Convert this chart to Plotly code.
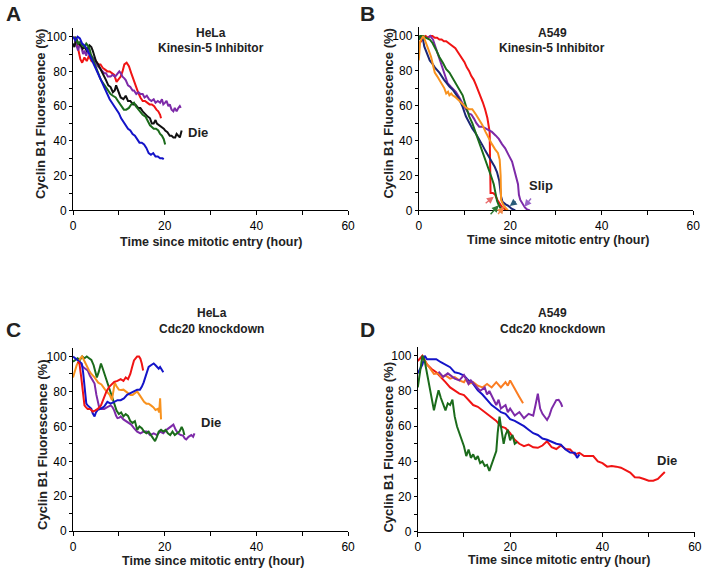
import plotly.graph_objects as go

# ---------------- data ----------------
# Panel A: HeLa, Kinesin-5 inhibitor
a_blue_t = [0, 0.5, 1, 1.5, 2, 2.5, 3, 3.5, 4, 4.5, 5, 5.5, 6, 6.5, 7, 7.5, 8, 8.5, 9, 9.5, 10, 10.5, 11, 11.5, 12, 12.5, 13, 13.5, 14, 14.5, 15, 15.5, 16, 16.5, 17, 17.5, 18, 18.5, 19, 19.5, 19.8]
a_blue_v = [100, 98, 100, 99, 96, 95, 93, 90, 87, 84, 81, 78, 75, 72, 69, 66, 64, 62, 60, 58, 56, 53, 51, 49, 47, 46, 44, 43, 41, 39, 39, 38, 36, 33, 32, 33, 31, 31, 30, 30, 29.5]
a_red_t = [0.3, 0.8, 1.2, 1.6, 2, 2.5, 3, 3.5, 4, 4.5, 5, 5.5, 6, 6.5, 7, 7.5, 8, 8.5, 9, 9.5, 10, 10.4, 10.8, 11.2, 11.7, 12.2, 12.7, 13.2, 13.7, 14.2, 14.7, 15.2, 15.7, 16.2, 16.7, 17.2, 17.7, 18.2, 18.6, 19, 19.2]
a_red_v = [100, 97, 92, 87, 85, 88, 86, 89, 86, 85, 86, 84, 84, 82, 81, 80, 80, 79, 78, 74, 76, 77, 80, 84, 85, 83, 79, 75, 72, 68, 65, 63, 63, 62, 61, 61, 60, 58, 57, 55, 53]
a_purple_t = [0.4, 0.8, 1.1, 1.5, 1.8, 2.2, 2.5, 2.9, 3.2, 3.6, 3.9, 4.3, 4.7, 5.0, 5.4, 5.8, 6.2, 6.8, 7.2, 7.6, 8.2, 8.6, 9.2, 9.7, 10.1, 10.4, 10.8, 11.2, 11.5, 12, 12.5, 13, 13.3, 13.8, 14.3, 14.7, 15.2, 15.6, 16.1, 16.6, 17.1, 17.6, 18, 18.5, 19, 19.4, 19.7, 20.1, 20.4, 20.8, 21.1, 21.5, 21.9, 22.2, 22.6, 23, 23.3, 23.5]
a_purple_v = [98, 95, 92, 96, 94, 90, 92, 89, 93, 91, 89, 88, 86, 85, 83, 82, 81, 79, 79, 77, 77, 78, 77, 79, 80, 79, 77, 76, 75, 72, 71, 69, 69, 67, 68, 67, 67, 65, 66, 64, 63, 64, 62, 63, 62, 64, 61, 62, 63, 60, 61, 58, 57, 59, 57, 59, 60, 59]
a_black_t = [0, 0.3, 0.7, 1.2, 1.7, 2.1, 2.5, 3.0, 3.6, 4.0, 4.3, 4.7, 5.0, 5.5, 6.1, 6.6, 7.2, 7.7, 8.2, 8.7, 9.1, 9.4, 9.7, 10.1, 10.4, 11, 11.5, 12, 12.5, 13.1, 13.6, 14.2, 14.7, 15.2, 15.8, 16.3, 16.8, 17.2, 17.6, 18, 18.3, 18.8, 19.4, 19.8, 20.1, 20.6, 21.1, 21.5, 21.9, 22.3, 22.6, 23, 23.3, 23.7]
a_black_v = [96, 94, 99, 96, 95, 93, 94, 92, 95, 94, 92, 88, 86, 84, 81, 78, 75, 72, 71, 68, 69, 72, 70, 67, 65, 64, 66, 63, 63, 61, 61, 59, 59, 57, 55, 54, 53, 50, 50, 52, 50, 49, 48, 47, 46, 45, 43, 43, 42, 42, 44, 43, 42, 46]
a_green_t = [0.4, 0.8, 1.1, 1.6, 2, 2.5, 2.9, 3.2, 3.6, 3.9, 4.3, 4.7, 5.0, 5.4, 5.8, 6.1, 6.6, 7.2, 7.7, 8.2, 8.7, 9.3, 9.8, 10.4, 10.8, 11.1, 11.6, 12.2, 12.7, 13.3, 13.7, 14, 14.4, 14.7, 15.2, 15.8, 16.3, 16.8, 17.2, 17.6, 18.1, 18.6, 19, 19.4, 19.8, 20.1]
a_green_v = [100, 98, 96, 97, 95, 94, 96, 95, 93, 90, 87, 85, 82, 79, 77, 75, 73, 71, 69, 67, 66, 65, 63, 61, 59, 58, 58, 59, 61, 62, 60, 59, 57, 56, 55, 54, 51, 49, 48, 47, 47, 46, 44, 43, 41, 38]

# Panel B: A549, Kinesin-5 inhibitor
b_red_t = [0, 0.5, 1, 1.5, 2, 2.5, 3, 3.5, 4, 4.5, 5, 5.5, 6, 6.5, 7, 7.5, 8, 8.5, 9, 9.5, 10, 10.5, 11, 11.5, 12, 12.5, 13, 13.5, 14, 14.5, 15, 15.5, 15.7, 16.2, 16.7, 17.2, 17.7, 18.2, 18.7, 19]
b_red_v = [95, 97, 99, 100, 99, 100, 100, 99, 99, 98, 98, 97, 97, 96, 95, 94, 93, 91, 89, 87, 85, 82, 80, 77, 75, 72, 69, 66, 62, 58, 53, 45, 10, 10, 9, 6, 4, 2, 1, 0]
b_navy_t = [0, 0.5, 0.8, 1.2, 1.8, 2.4, 3, 3.5, 4.5, 5.5, 6.7, 7.5, 8.8, 9.5, 10.3, 11, 11.7, 12.5, 13.2, 14, 14.6, 15.3, 16, 16.6, 17.1, 17.6, 18, 18.3, 19, 19.6, 20.3, 21.1]
b_navy_v = [98, 99, 100, 94, 90, 86, 84, 82, 79, 75, 71, 69, 64, 60, 54, 50, 47, 44, 41, 37, 34, 31, 28, 25, 22, 17, 8, 5, 3.5, 2.6, 1, 0]
b_green_t = [0, 0.3, 1, 1.5, 2.4, 3, 3.8, 4.5, 5.3, 6, 6.7, 7.4, 8.1, 8.8, 9.6, 10.3, 11, 11.7, 12.4, 13.1, 13.9, 14.6, 15.3, 15.9, 16.4, 16.8, 17.1, 17.5, 17.8, 18.2]
b_green_v = [98, 100, 100, 99, 98, 96, 92, 88, 84.5, 81, 79, 76, 73, 70, 66, 60, 54, 50, 45, 40, 34, 29, 24, 19, 15, 10, 5.5, 3, 1.7, 0]
b_orange_t = [0, 0.3, 1, 1.5, 2, 2.7, 3.1, 3.5, 4, 4.5, 5, 5.6, 6, 6.4, 6.7, 7.1, 7.4, 8, 8.8, 9.5, 10.3, 11, 11.7, 12.5, 13.2, 13.9, 14.6, 15.3, 16, 16.7, 17.3, 17.7, 17.9, 18.0, 18.5, 19, 19.5]
b_orange_v = [86, 97, 100, 96, 93, 88, 83, 79, 77, 75, 73, 70, 67, 68, 66, 67, 66, 65, 63, 61, 59, 58, 58, 55, 52, 49, 45, 41, 38, 35, 33, 29, 20, 6, 3, 1.5, 0]
b_purple_t = [2, 2.5, 3.1, 3.6, 4.2, 4.7, 5.3, 5.8, 6.3, 7, 8.1, 8.8, 9.6, 10.3, 11, 11.5, 12.1, 12.6, 13.2, 13.9, 14.6, 15.3, 16, 16.8, 17.5, 18.2, 18.9, 19.6, 20.4, 20.8, 21.2, 21.5, 21.7, 21.8, 21.9, 22.2, 22.5, 22.8, 23.2, 23.7, 24.3]
b_purple_v = [99, 100, 98, 94, 90, 85, 81, 77, 73, 71, 68, 65, 61, 58, 55.4, 55, 52.5, 50, 48, 48, 47, 46, 45, 43, 41, 38, 35.6, 32, 28, 24, 20.5, 17, 15, 12, 9, 6, 4.5, 3, 1.7, 0.5, 0]

# Panel C: HeLa, Cdc20 knockdown
c_blue_t = [0, 0.5, 1, 1.5, 1.9, 2.2, 2.5, 2.7, 2.9, 3.2, 3.6, 4, 4.3, 4.7, 5, 5.4, 6, 6.8, 7.5, 8.2, 9, 9.7, 10.4, 11.1, 11.8, 12.5, 13.3, 14, 14.6, 15, 15.4, 15.8, 16.2, 16.5, 17, 17.6, 18, 18.3, 18.7, 19, 19.4, 19.7]
c_blue_v = [100, 99, 98, 97, 96, 91, 84, 78, 73, 72, 71, 70, 67.5, 65.7, 68, 69.4, 70, 71.3, 74, 73, 74, 75, 75, 76, 78, 79, 80, 81, 81, 82.6, 85, 88, 92, 94, 95, 96, 95, 94, 93, 94, 92, 91]
c_red_t = [1.0, 1.4, 1.8, 2.2, 2.5, 2.8, 3.2, 3.7, 4.3, 4.8, 5.4, 6.1, 6.8, 7.3, 7.9, 8.5, 9, 9.7, 10.4, 11, 11.5, 12, 12.5, 12.9, 13.3, 13.7, 14, 14.4, 14.7, 15, 15.3]
c_red_v = [97, 96, 88, 79, 72, 71, 70, 70, 68.5, 69, 70, 72, 77, 80, 82.6, 84, 85.5, 86, 87, 86, 88, 87, 90, 94, 97.7, 99, 100, 100, 98.7, 96, 92]
c_green_t = [0, 0.5, 1, 1.5, 2, 2.5, 3, 3.5, 4, 4.5, 4.9, 5.2, 5.6, 6.1, 6.5, 7, 7.5, 8, 8.3, 8.7, 9.1, 9.5, 10, 10.5, 11, 11.5, 12, 12.5, 13, 13.5, 14, 14.5, 15, 15.5, 16, 16.5, 17, 17.5, 17.9, 18.3, 18.7, 19.2, 19.7, 20.2, 20.7, 21.2, 21.7, 22.2, 22.7, 23.2, 23.7, 24, 24.3]
c_green_v = [97, 98, 99, 98, 100, 99, 100, 99, 98, 95, 91, 88, 91, 96, 93, 89, 85, 81, 79, 76, 72, 69, 67, 68, 65.7, 67, 66, 63, 62, 63, 58, 60, 59, 57, 56, 57, 55, 53, 51.5, 54, 57, 58, 57, 58, 56, 55, 57, 55, 56, 57, 59.6, 58, 55]
c_purple_t = [1.2, 1.7, 2.2, 2.7, 3.2, 3.7, 4.2, 4.7, 5.1, 5.4, 5.7, 6.2, 6.8, 7.5, 8.2, 8.6, 9, 9.4, 9.7, 10.1, 10.4, 11, 11.5, 12.2, 12.7, 13.3, 14, 14.7, 15.4, 16.1, 16.8, 17.6, 18.3, 19, 19.7, 20.4, 21, 21.5, 21.9, 22.4, 22.9, 23.5, 24, 24.4, 24.7, 25.2, 25.8, 26.2, 26.5]
c_purple_v = [98, 96, 94, 93, 92, 89, 87, 84.5, 78, 75, 71, 70, 70, 71, 72, 71, 69, 66, 64.7, 65, 65.7, 64, 63, 62, 61, 59, 57, 56, 57, 57, 55, 56, 55, 57, 56, 58, 59, 60, 61, 58, 56, 55, 54.7, 53, 52.5, 54, 55, 54, 56]
c_orange_t = [0, 0.4, 0.8, 1.2, 1.6, 2, 2.5, 3, 3.5, 4, 4.7, 5.5, 6.2, 7, 7.6, 8, 8.5, 8.8, 9.1, 9.5, 10, 10.5, 11, 11.5, 12, 12.5, 13, 13.5, 14, 14.5, 15, 15.5, 16, 16.5, 17, 17.5, 18, 18.5, 18.8, 19, 19.1, 19.2]
c_orange_v = [88, 92, 95, 97, 99, 100, 97, 95, 92, 90, 88, 85, 84, 81, 79, 78, 75, 80, 85, 83, 81, 80.8, 81, 80, 79, 78, 78, 79, 80, 78, 76, 74, 73, 73, 72, 71, 69.4, 70, 68, 76, 70, 64]

# Panel D: A549, Cdc20 knockdown
d_red_t = [0, 1, 2, 3, 4, 5, 6, 7, 8, 9, 10, 11, 12, 13, 14, 15, 16, 17, 18, 19, 20, 21, 22, 23, 24, 25, 26, 27, 28, 29, 30, 31, 32, 33, 34, 35, 36, 37, 38, 39, 40, 41, 42, 43, 44, 45, 46, 47, 48, 49, 50, 51, 52, 53, 53.5]
d_red_v = [97, 100, 95, 92.5, 90.6, 88, 85, 82, 80.4, 78.5, 77.6, 74.8, 72, 71, 69, 67, 65.4, 63, 59.8, 58.9, 56, 52.3, 50, 48.6, 49.5, 48, 47.7, 49, 51.4, 48, 47, 49, 47, 46.7, 44, 44.9, 43, 43, 43, 40, 39, 37, 37.4, 37, 36.4, 35, 33.6, 31, 30.8, 30, 29, 29, 30, 32.7, 34]
d_blue_t = [0, 0.5, 1, 1.5, 2, 3, 4, 5, 6, 7, 8, 9, 10, 11, 12, 13, 14, 15, 16, 17, 18, 19, 20, 21, 22, 23, 24, 25, 26, 27, 28, 29, 30, 31, 32, 33, 34, 34.5, 35]
d_blue_v = [90, 93, 95, 100, 98, 98, 98, 96.3, 95, 93.5, 90.6, 90, 88.8, 86, 84, 80.4, 78, 74.8, 72, 70, 68, 67, 64, 63, 61.7, 60, 58, 56, 55, 53, 52.3, 51, 50, 49.5, 46.7, 45, 44.9, 42, 44]
d_orange_t = [1, 2, 3, 3.5, 4.5, 5, 6, 7, 8, 9, 10, 10.5, 11, 12, 13, 14, 15, 16, 17, 18, 19, 19.5, 20, 21, 21.5, 22, 22.8]
d_orange_v = [99, 95.3, 92, 89.7, 90, 88, 88.8, 87, 87.9, 86, 85, 87, 84, 85, 83, 82, 84, 82, 85, 82, 85, 83, 86, 81, 79, 76.6, 73]
d_purple_t = [4.5, 5.5, 6.5, 8, 9, 10, 11, 11.5, 12.5, 13.5, 14.5, 15, 15.5, 16.5, 17, 17.5, 18, 19, 19.5, 20, 21, 22, 23, 24, 25, 25.5, 26, 26.5, 27, 28, 28.5, 29, 30, 30.5, 31, 31.3]
d_purple_v = [91, 88, 90, 87, 86, 89, 84, 86, 83, 80, 82, 78, 80, 75, 72, 75, 70, 72, 68, 70, 66, 68, 64.5, 67, 66, 72, 78.5, 70, 67, 63.5, 66, 70, 74.8, 75, 73, 71]
d_green_t = [0, 1, 1.5, 2, 2.5, 3, 3.5, 4, 4.5, 5, 5.5, 6, 6.5, 7, 7.5, 8, 8.5, 9, 9.5, 10, 10.5, 11, 11.5, 12, 12.5, 13, 13.5, 14, 14.5, 15, 15.5, 16, 16.5, 17, 17.3, 17.7, 18, 18.3, 18.6, 19, 19.5, 20, 20.5, 21, 21.5]
d_green_v = [82, 100, 97, 90, 84, 76.6, 69, 75, 80.4, 76, 72, 69, 73, 72, 75, 65.4, 59.8, 56, 51.4, 48.6, 43, 46.7, 42, 44, 41, 43, 39, 40, 37.4, 38, 34.6, 38, 42, 45.8, 56, 65.4, 60, 55, 50, 55, 58, 52, 55, 50, 51]

x_ticks = [0, 20, 40, 60]
x_minor = [10, 30, 50]
y_ticks = [0, 20, 40, 60, 80, 100]
y_minor = [10, 30, 50, 70, 90]

RED = "#f01414"
BLUE = "#1414c8"
NAVY = "#1c2676"
GREEN = "#1b6b1b"
PURPLE = "#7d2aa8"
ORANGE = "#f8921e"
ORANGE_D = "#fb7d22"
BLACK = "#111111"

W, H = 711, 578


def px(x):
    return x / W


def py(y):
    return 1 - y / H


panels = [
    ("", [(a_red_t, a_red_v, RED), (a_purple_t, a_purple_v, PURPLE), (a_black_t, a_black_v, BLACK),
          (a_green_t, a_green_v, GREEN), (a_blue_t, a_blue_v, BLUE)]),
    ("2", [(b_red_t, b_red_v, RED), (b_purple_t, b_purple_v, PURPLE), (b_navy_t, b_navy_v, NAVY),
           (b_green_t, b_green_v, GREEN), (b_orange_t, b_orange_v, ORANGE)]),
    ("3", [(c_purple_t, c_purple_v, PURPLE), (c_green_t, c_green_v, GREEN), (c_orange_t, c_orange_v, ORANGE),
           (c_blue_t, c_blue_v, BLUE), (c_red_t, c_red_v, RED)]),
    ("4", [(d_red_t, d_red_v, RED), (d_blue_t, d_blue_v, BLUE), (d_orange_t, d_orange_v, ORANGE_D),
           (d_purple_t, d_purple_v, PURPLE), (d_green_t, d_green_v, GREEN)]),
]

fig = go.Figure()
for suf, trs in panels:
    for t, v, col in trs:
        fig.add_trace(go.Scatter(x=t, y=v, mode="lines", line=dict(color=col, width=2),
                                 xaxis="x" + suf, yaxis="y" + suf, showlegend=False, hoverinfo="skip"))

b_arrows = [
    ((14.3, 3.4), (16.4, 7.9), "#e86a6a"),
    ((15.4, -3.0), (17.5, 3.0), "#2f7a34"),
    ((17.1, -3.0), (18.6, 2.2), "#f08848"),
    ((21.5, 5.8), (19.9, 2.6), "#2b5c7a"),
    ((24.8, 7.7), (23.1, 2.1), "#9a66c8"),
]

geom = {
    "": (71, 350, 213, 28.3),
    "2": (421.7, 700, 213, 27.6),
    "3": (71, 350, 537.7, 352),
    "4": (420.7, 701.7, 538.3, 351.2),
}

tickfont = dict(family="Liberation Sans, Arial, sans-serif", size=12, color="black")
layout = dict(width=W, height=H, margin=dict(l=0, r=0, t=0, b=0), autosize=False,
              paper_bgcolor="white", plot_bgcolor="white", showlegend=False)
for suf, (x0, x1, yb, yt) in geom.items():
    layout["xaxis" + suf] = dict(domain=[px(x0), px(x1)], range=[0, 60], anchor="y" + suf,
                                 showline=True, linecolor="black", linewidth=1,
                                 ticks="outside", ticklen=4, tickwidth=1, tickcolor="black",
                                 tickvals=x_ticks, ticktext=[str(v) for v in x_ticks],
                                 minor=dict(tickvals=x_minor, ticks="outside", ticklen=4, tickcolor="black"),
                                 showgrid=False, zeroline=False, tickfont=tickfont, fixedrange=True)
    layout["yaxis" + suf] = dict(domain=[py(yb), py(yt)], range=[0, 105], anchor="x" + suf,
                                 showline=True, linecolor="black", linewidth=1,
                                 ticks="outside", ticklen=3, tickwidth=1, tickcolor="black",
                                 tickvals=y_ticks, ticktext=[str(v) for v in y_ticks],
                                 minor=dict(tickvals=y_minor, ticks="outside", ticklen=3, tickcolor="black"),
                                 showgrid=False, zeroline=False, tickfont=tickfont, fixedrange=True)

bold = "Liberation Sans, Arial, sans-serif"
ann = []


def text(x, y, s, size=11, angle=0):
    ann.append(dict(x=px(x), y=py(y), xref="paper", yref="paper", text="<b>" + s + "</b>",
                    showarrow=False, xanchor="center", yanchor="middle", textangle=angle,
                    font=dict(family=bold, size=size, color="#222222")))


for lx, ly, s in [(11, 14, "A"), (369.5, 14, "B"), (11, 334, "C"), (369.5, 334, "D")]:
    text(lx, ly, s, size=21)
text(211, 33, "HeLa", 12); text(211, 49, "Kinesin-5 Inhibitor", 12)
text(557, 33, "A549", 12); text(557, 49, "Kinesin-5 Inhibitor", 12)
text(212, 317, "HeLa", 12); text(211, 333, "Cdc20 knockdown", 12)
text(557, 317, "A549", 12); text(557, 333, "Cdc20 knockdown", 12)
for cx, cy in [(38, 115), (391.5, 114), (40, 450), (391.5, 452)]:
    text(cx, cy, "Cyclin B1 Fluorescence (%)", size=13, angle=-90)
for cx, cy in [(211, 245), (563, 243), (212.5, 567.5), (564, 567)]:
    text(cx, cy, "Time since mitotic entry (hour)", size=12.5)

for suf, xv, yv, s in [("", 27.3, 45, "Die"), ("2", 26.8, 14, "Slip"), ("3", 30.1, 62, "Die"), ("4", 54, 40.7, "Die")]:
    ann.append(dict(x=xv, y=yv, xref="x" + suf, yref="y" + suf, text="<b>" + s + "</b>", showarrow=False,
                    xanchor="center", yanchor="middle", font=dict(family=bold, size=13, color="#222222")))

for (sx, sy), (ex, ey), col in b_arrows:
    ann.append(dict(x=ex, y=ey, ax=sx, ay=sy, xref="x2", yref="y2", axref="x2", ayref="y2",
                    showarrow=True, arrowhead=2, arrowsize=1, arrowwidth=1.4, arrowcolor=col, text=""))

layout["annotations"] = ann
fig.update_layout(**layout)
# remove the default page margin so the figure sits at the window's top-left corner
fig.write_html("out.html", config={"displayModeBar": False, "staticPlot": True},
               post_script="document.body.style.margin='0';document.body.style.overflow='hidden';")
